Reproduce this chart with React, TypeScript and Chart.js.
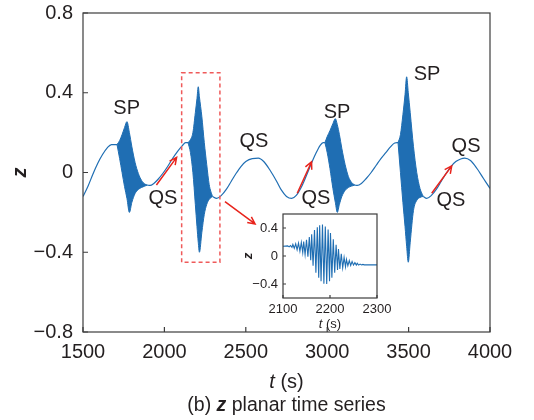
import React, { useEffect, useRef } from 'react';
import { Chart, registerables } from 'chart.js';

Chart.register(...registerables);

// ---------- main axes ----------
const xTicks = [1500, 2000, 2500, 3000, 3500, 4000];
const yTicks = [-0.8, -0.4, 0, 0.4, 0.8];

// ---------- QS (slow) segments: t (s), z ----------
const qs0T = [1500, 1530, 1560, 1590, 1620, 1650, 1675, 1695, 1709];
const qs0Z = [-0.12, -0.07, -0.01, 0.045, 0.09, 0.125, 0.14, 0.14, 0.14];
const qs1T = [1895, 1912, 1935, 1960, 1990, 2020, 2050, 2080, 2110, 2130, 2145];
const qs1Z = [-0.063, -0.065, -0.055, -0.035, -0.005, 0.03, 0.07, 0.105, 0.135, 0.15, 0.15];
const qs2T = [2295, 2321, 2350, 2380, 2410, 2440, 2470, 2500, 2540, 2577, 2610, 2650, 2690, 2720, 2750, 2782, 2810, 2840, 2870, 2900, 2930, 2956, 2975, 2986];
const qs2Z = [-0.12, -0.13, -0.115, -0.085, -0.045, -0.005, 0.03, 0.055, 0.07, 0.072, 0.055, 0.01, -0.045, -0.09, -0.12, -0.13, -0.115, -0.075, -0.02, 0.04, 0.095, 0.135, 0.15, 0.15];
const qs3T = [3170, 3185, 3210, 3240, 3270, 3300, 3330, 3360, 3390, 3415, 3435];
const qs3Z = [-0.063, -0.065, -0.055, -0.03, 0.0, 0.035, 0.07, 0.1, 0.13, 0.148, 0.15];
const qs4T = [3590, 3611, 3640, 3670, 3700, 3730, 3760, 3790, 3820, 3845, 3880, 3920, 3960, 4000];
const qs4Z = [-0.12, -0.13, -0.115, -0.085, -0.045, -0.005, 0.03, 0.055, 0.068, 0.072, 0.06, 0.02, -0.03, -0.08];

// ---------- SP (spiking) bursts: envelope upper / lower ----------
const sp1T = [1709, 1725, 1740, 1755, 1770, 1785, 1800, 1820, 1840, 1860, 1880, 1895];
const sp1Hi = [0.14, 0.16, 0.19, 0.225, 0.255, 0.2, 0.13, 0.05, -0.005, -0.04, -0.058, -0.063];
const sp1Lo = [0.14, 0.07, 0.0, -0.07, -0.13, -0.2, -0.15, -0.105, -0.085, -0.075, -0.068, -0.063];
const sp2T = [2145, 2160, 2175, 2190, 2200, 2208, 2215, 2230, 2245, 2260, 2275, 2295];
const sp2Hi = [0.15, 0.165, 0.2, 0.3, 0.37, 0.43, 0.38, 0.28, 0.15, 0.04, -0.06, -0.12];
const sp2Lo = [0.15, 0.1, 0.0, -0.16, -0.27, -0.35, -0.4, -0.3, -0.21, -0.16, -0.135, -0.12];
const sp3T = [2986, 3000, 3017, 3035, 3050, 3062, 3075, 3090, 3110, 3130, 3150, 3170];
const sp3Hi = [0.15, 0.18, 0.21, 0.245, 0.27, 0.24, 0.19, 0.12, 0.04, -0.02, -0.05, -0.063];
const sp3Lo = [0.15, 0.1, 0.02, -0.08, -0.15, -0.2, -0.16, -0.12, -0.09, -0.075, -0.068, -0.063];
const sp4T = [3435, 3450, 3465, 3478, 3488, 3498, 3510, 3530, 3550, 3570, 3590];
const sp4Hi = [0.15, 0.19, 0.29, 0.39, 0.48, 0.4, 0.3, 0.13, 0.0, -0.08, -0.12];
const sp4Lo = [0.15, 0.0, -0.15, -0.27, -0.37, -0.45, -0.35, -0.19, -0.14, -0.125, -0.12];

// ---------- annotations (data coordinates) ----------
const labelText = ['SP', 'QS', 'QS', 'SP', 'QS', 'SP', 'QS', 'QS'];
const labelT = [1768, 1991, 2550, 3060, 2931, 3613, 3853, 3760];
const labelZ = [0.33, -0.12, 0.163, 0.31, -0.12, 0.5, 0.14, -0.13];

const arrowTailT = [1951, 2372, 2816, 3642];
const arrowTailZ = [-0.063, -0.146, -0.104, -0.104];
const arrowHeadT = [2075, 2557, 2904, 3765];
const arrowHeadZ = [0.076, -0.258, 0.054, 0.033];

const boxT = [2106, 2341];
const boxZ = [0.5, -0.45];

// ---------- inset ----------
const insetXTicks = [2100, 2200, 2300];
const insetYTicks = [-0.4, 0, 0.4];
const insetStartT = 2100;
const insetStartZ = 0.14;
const insetEndT = 2300;
const insetEndZ = -0.127;
const insetHiT = [2110, 2116, 2121, 2127, 2133, 2139, 2144, 2150, 2156, 2161, 2167, 2173, 2178, 2184, 2190, 2196, 2201, 2207, 2213, 2218, 2224, 2230, 2235, 2241, 2247, 2253, 2258, 2264, 2270];
const insetHiZ = [0.145, 0.15, 0.165, 0.175, 0.185, 0.195, 0.205, 0.23, 0.27, 0.31, 0.37, 0.41, 0.44, 0.45, 0.42, 0.38, 0.33, 0.24, 0.16, 0.1, 0.03, -0.02, -0.05, -0.065, -0.08, -0.095, -0.105, -0.115, -0.12];
const insetLoT = [2113, 2119, 2124, 2130, 2136, 2142, 2147, 2153, 2159, 2164, 2170, 2176, 2181, 2187, 2193, 2199, 2204, 2210, 2216, 2221, 2227, 2233, 2238, 2244, 2250, 2256, 2261, 2267, 2273];
const insetLoZ = [0.13, 0.125, 0.11, 0.09, 0.07, 0.05, 0.02, -0.01, -0.06, -0.14, -0.24, -0.31, -0.36, -0.395, -0.4, -0.36, -0.31, -0.24, -0.2, -0.185, -0.17, -0.155, -0.14, -0.135, -0.13, -0.13, -0.13, -0.128, -0.127];

// ---------- styles ----------
const BLUE = '#1f6eb3';
const RED = '#e8241c';
const RED_BOX = '#ef5a5a';
const TEXT = '#231f20';
const FRAME = '#3c3c3c';
const FAMILY = '"Liberation Sans", Arial, Helvetica, sans-serif';

const pts = (t: number[], z: number[]) => t.map((v, i) => ({ x: v, y: z[i] }));

const fmt = (v: number) => {
  if (Math.abs(v) < 1e-9) return '0';
  const s = Math.abs(v).toFixed(1);
  return v < 0 ? '\u2212' + s : s;
};

function drawRich(ctx: CanvasRenderingContext2D, parts: { text: string; font: string }[], cx: number, cy: number) {
  let total = 0;
  const widths = parts.map((p) => {
    ctx.font = p.font;
    const w = ctx.measureText(p.text).width;
    total += w;
    return w;
  });
  let x = cx - total / 2;
  ctx.textAlign = 'left';
  ctx.textBaseline = 'middle';
  parts.forEach((p, i) => {
    ctx.font = p.font;
    ctx.fillText(p.text, x, cy);
    x += widths[i];
  });
}

function drawArrow(ctx: CanvasRenderingContext2D, x1: number, y1: number, x2: number, y2: number) {
  const ang = Math.atan2(y2 - y1, x2 - x1);
  const L = 8;
  const spread = 0.45;
  ctx.beginPath();
  ctx.moveTo(x1, y1);
  ctx.lineTo(x2, y2);
  ctx.moveTo(x2 - L * Math.cos(ang - spread), y2 - L * Math.sin(ang - spread));
  ctx.lineTo(x2, y2);
  ctx.lineTo(x2 - L * Math.cos(ang + spread), y2 - L * Math.sin(ang + spread));
  ctx.stroke();
}

const mainDeco = {
  id: 'mainDeco',
  afterDraw(chart: any) {
    const { ctx, chartArea: a, scales } = chart;
    const xs = scales.x;
    const ys = scales.y;
    ctx.save();
    ctx.strokeStyle = FRAME;
    ctx.lineWidth = 1.2;
    ctx.strokeRect(a.left, a.top, a.right - a.left, a.bottom - a.top);
    ctx.beginPath();
    xTicks.forEach((v) => {
      const px = xs.getPixelForValue(v);
      ctx.moveTo(px, a.bottom);
      ctx.lineTo(px, a.bottom - 5);
    });
    yTicks.forEach((v) => {
      const py = ys.getPixelForValue(v);
      ctx.moveTo(a.left, py);
      ctx.lineTo(a.left + 5, py);
    });
    ctx.stroke();

    ctx.strokeStyle = RED_BOX;
    ctx.lineWidth = 1.5;
    ctx.setLineDash([4, 3]);
    const bx1 = xs.getPixelForValue(boxT[0]);
    const bx2 = xs.getPixelForValue(boxT[1]);
    const by1 = ys.getPixelForValue(boxZ[0]);
    const by2 = ys.getPixelForValue(boxZ[1]);
    ctx.strokeRect(bx1, by1, bx2 - bx1, by2 - by1);
    ctx.setLineDash([]);

    ctx.strokeStyle = RED;
    ctx.lineWidth = 1.5;
    arrowTailT.forEach((t, i) => {
      drawArrow(
        ctx,
        xs.getPixelForValue(t),
        ys.getPixelForValue(arrowTailZ[i]),
        xs.getPixelForValue(arrowHeadT[i]),
        ys.getPixelForValue(arrowHeadZ[i])
      );
    });

    ctx.fillStyle = TEXT;
    ctx.font = `20px ${FAMILY}`;
    ctx.textAlign = 'center';
    ctx.textBaseline = 'alphabetic';
    labelText.forEach((s, i) => {
      const px = xs.getPixelForValue(labelT[i]);
      const py = ys.getPixelForValue(labelZ[i]);
      ctx.fillText(s, px, py + 7.2);
    });

    const cx = (a.left + a.right) / 2;
    drawRich(ctx, [
      { text: 't', font: `italic 20px ${FAMILY}` },
      { text: ' (s)', font: `20px ${FAMILY}` },
    ], cx, a.bottom + 50);
    drawRich(ctx, [
      { text: '(b) ', font: `19.5px ${FAMILY}` },
      { text: 'z', font: `italic bold 19.5px ${FAMILY}` },
      { text: ' planar time series', font: `19.5px ${FAMILY}` },
    ], cx, a.bottom + 74);

    ctx.save();
    ctx.translate(20, (a.top + a.bottom) / 2);
    ctx.rotate(-Math.PI / 2);
    ctx.font = `italic bold 20px ${FAMILY}`;
    ctx.textAlign = 'center';
    ctx.textBaseline = 'middle';
    ctx.fillText('z', 0, 0);
    ctx.restore();

    ctx.restore();
  },
};

const insetDeco = {
  id: 'insetDeco',
  beforeDraw(chart: any) {
    const { ctx, chartArea: a } = chart;
    ctx.save();
    ctx.fillStyle = '#ffffff';
    ctx.fillRect(a.left, a.top, a.right - a.left, a.bottom - a.top);
    ctx.restore();
  },
  afterDraw(chart: any) {
    const { ctx, chartArea: a, scales } = chart;
    const xs = scales.x;
    const ys = scales.y;
    ctx.save();
    ctx.strokeStyle = FRAME;
    ctx.lineWidth = 1.2;
    ctx.strokeRect(a.left, a.top, a.right - a.left, a.bottom - a.top);
    ctx.beginPath();
    insetXTicks.forEach((v) => {
      const px = xs.getPixelForValue(v);
      ctx.moveTo(px, a.bottom);
      ctx.lineTo(px, a.bottom - 3);
    });
    insetYTicks.forEach((v) => {
      const py = ys.getPixelForValue(v);
      ctx.moveTo(a.left, py);
      ctx.lineTo(a.left + 3, py);
    });
    ctx.stroke();
    ctx.fillStyle = TEXT;
    drawRich(ctx, [
      { text: 't', font: `italic 13px ${FAMILY}` },
      { text: ' (s)', font: `13px ${FAMILY}` },
    ], (a.left + a.right) / 2, a.bottom + 26);
    ctx.save();
    ctx.translate(12, (a.top + a.bottom) / 2);
    ctx.rotate(-Math.PI / 2);
    ctx.font = `italic bold 13px ${FAMILY}`;
    ctx.textAlign = 'center';
    ctx.textBaseline = 'middle';
    ctx.fillText('z', 0, 0);
    ctx.restore();
    ctx.restore();
  },
};

function lineDs(data: any[], extra: any = {}) {
  return {
    data,
    borderColor: BLUE,
    backgroundColor: BLUE,
    borderWidth: 1.2,
    pointRadius: 0,
    cubicInterpolationMode: 'monotone',
    fill: false,
    ...extra,
  };
}

const zeroPadV = (s: any, w: number) => {
  s.width = w;
  s.paddingTop = 0;
  s.paddingBottom = 0;
};
const zeroPadH = (s: any, h: number) => {
  s.height = h;
  s.paddingLeft = 0;
  s.paddingRight = 0;
};

export default function App() {
  const mainRef = useRef<HTMLCanvasElement>(null);
  const insetRef = useRef<HTMLCanvasElement>(null);

  useEffect(() => {
    const datasets: any[] = [
      lineDs(pts(qs0T, qs0Z)),
      lineDs(pts(qs1T, qs1Z)),
      lineDs(pts(qs2T, qs2Z)),
      lineDs(pts(qs3T, qs3Z)),
      lineDs(pts(qs4T, qs4Z)),
    ];
    const bursts: [number[], number[], number[]][] = [
      [sp1T, sp1Hi, sp1Lo],
      [sp2T, sp2Hi, sp2Lo],
      [sp3T, sp3Hi, sp3Lo],
      [sp4T, sp4Hi, sp4Lo],
    ];
    bursts.forEach(([t, hi, lo]) => {
      datasets.push(lineDs(pts(t, hi), { fill: '+1', borderWidth: 1 }));
      datasets.push(lineDs(pts(t, lo), { borderWidth: 1 }));
    });

    const mainChart = new Chart(mainRef.current as HTMLCanvasElement, {
      type: 'line',
      data: { datasets },
      options: {
        animation: false,
        responsive: false,
        devicePixelRatio: 1,
        layout: { padding: { left: 0, right: 44, top: 13, bottom: 0 } },
        plugins: { legend: { display: false }, tooltip: { enabled: false } },
        scales: {
          x: {
            type: 'linear',
            min: 1500,
            max: 4000,
            afterBuildTicks: (s: any) => {
              s.ticks = xTicks.map((v) => ({ value: v }));
            },
            afterFit: (s: any) => zeroPadH(s, 88),
            grid: { display: false, drawTicks: false },
            border: { display: false },
            ticks: {
              padding: 8,
              color: TEXT,
              font: { family: FAMILY, size: 20 },
              maxRotation: 0,
              autoSkip: false,
              callback: (v: any) => String(v),
            },
          },
          y: {
            type: 'linear',
            min: -0.8,
            max: 0.8,
            afterBuildTicks: (s: any) => {
              s.ticks = yTicks.map((v) => ({ value: v }));
            },
            afterFit: (s: any) => zeroPadV(s, 83),
            grid: { display: false, drawTicks: false },
            border: { display: false },
            ticks: {
              padding: 10,
              color: TEXT,
              font: { family: FAMILY, size: 20 },
              autoSkip: false,
              callback: (v: any) => fmt(Number(v)),
            },
          },
        },
      },
      plugins: [mainDeco],
    });

    const zig: { x: number; y: number }[] = [{ x: insetStartT, y: insetStartZ }];
    insetHiT.forEach((t, i) => {
      zig.push({ x: t, y: insetHiZ[i] });
      zig.push({ x: insetLoT[i], y: insetLoZ[i] });
    });
    zig.push({ x: insetEndT, y: insetEndZ });

    const insetChart = new Chart(insetRef.current as HTMLCanvasElement, {
      type: 'line',
      data: {
        datasets: [
          {
            data: zig,
            borderColor: BLUE,
            borderWidth: 1.1,
            pointRadius: 0,
            tension: 0,
            fill: false,
          },
        ],
      },
      options: {
        animation: false,
        responsive: false,
        devicePixelRatio: 1,
        layout: { padding: { left: 0, right: 19, top: 9, bottom: 0 } },
        plugins: { legend: { display: false }, tooltip: { enabled: false } },
        scales: {
          x: {
            type: 'linear',
            min: 2100,
            max: 2300,
            afterBuildTicks: (s: any) => {
              s.ticks = insetXTicks.map((v) => ({ value: v }));
            },
            afterFit: (s: any) => zeroPadH(s, 37),
            grid: { display: false, drawTicks: false },
            border: { display: false },
            ticks: {
              padding: 4,
              color: TEXT,
              font: { family: FAMILY, size: 13 },
              maxRotation: 0,
              autoSkip: false,
              callback: (v: any) => String(v),
            },
          },
          y: {
            type: 'linear',
            min: -0.6,
            max: 0.6,
            afterBuildTicks: (s: any) => {
              s.ticks = insetYTicks.map((v) => ({ value: v }));
            },
            afterFit: (s: any) => zeroPadV(s, 47),
            grid: { display: false, drawTicks: false },
            border: { display: false },
            ticks: {
              padding: 5,
              color: TEXT,
              font: { family: FAMILY, size: 13 },
              autoSkip: false,
              callback: (v: any) => fmt(Number(v)),
            },
          },
        },
      },
      plugins: [insetDeco],
    });

    return () => {
      mainChart.destroy();
      insetChart.destroy();
    };
  }, []);

  return (
    <div style={{ position: 'absolute', left: 0, top: 0, width: 534, height: 420, background: '#fff' }}>
      <canvas ref={mainRef} width={534} height={420} style={{ position: 'absolute', left: 0, top: 0, width: 534, height: 420 }} />
      <canvas ref={insetRef} width={160} height={130} style={{ position: 'absolute', left: 236, top: 205, width: 160, height: 130 }} />
    </div>
  );
}
